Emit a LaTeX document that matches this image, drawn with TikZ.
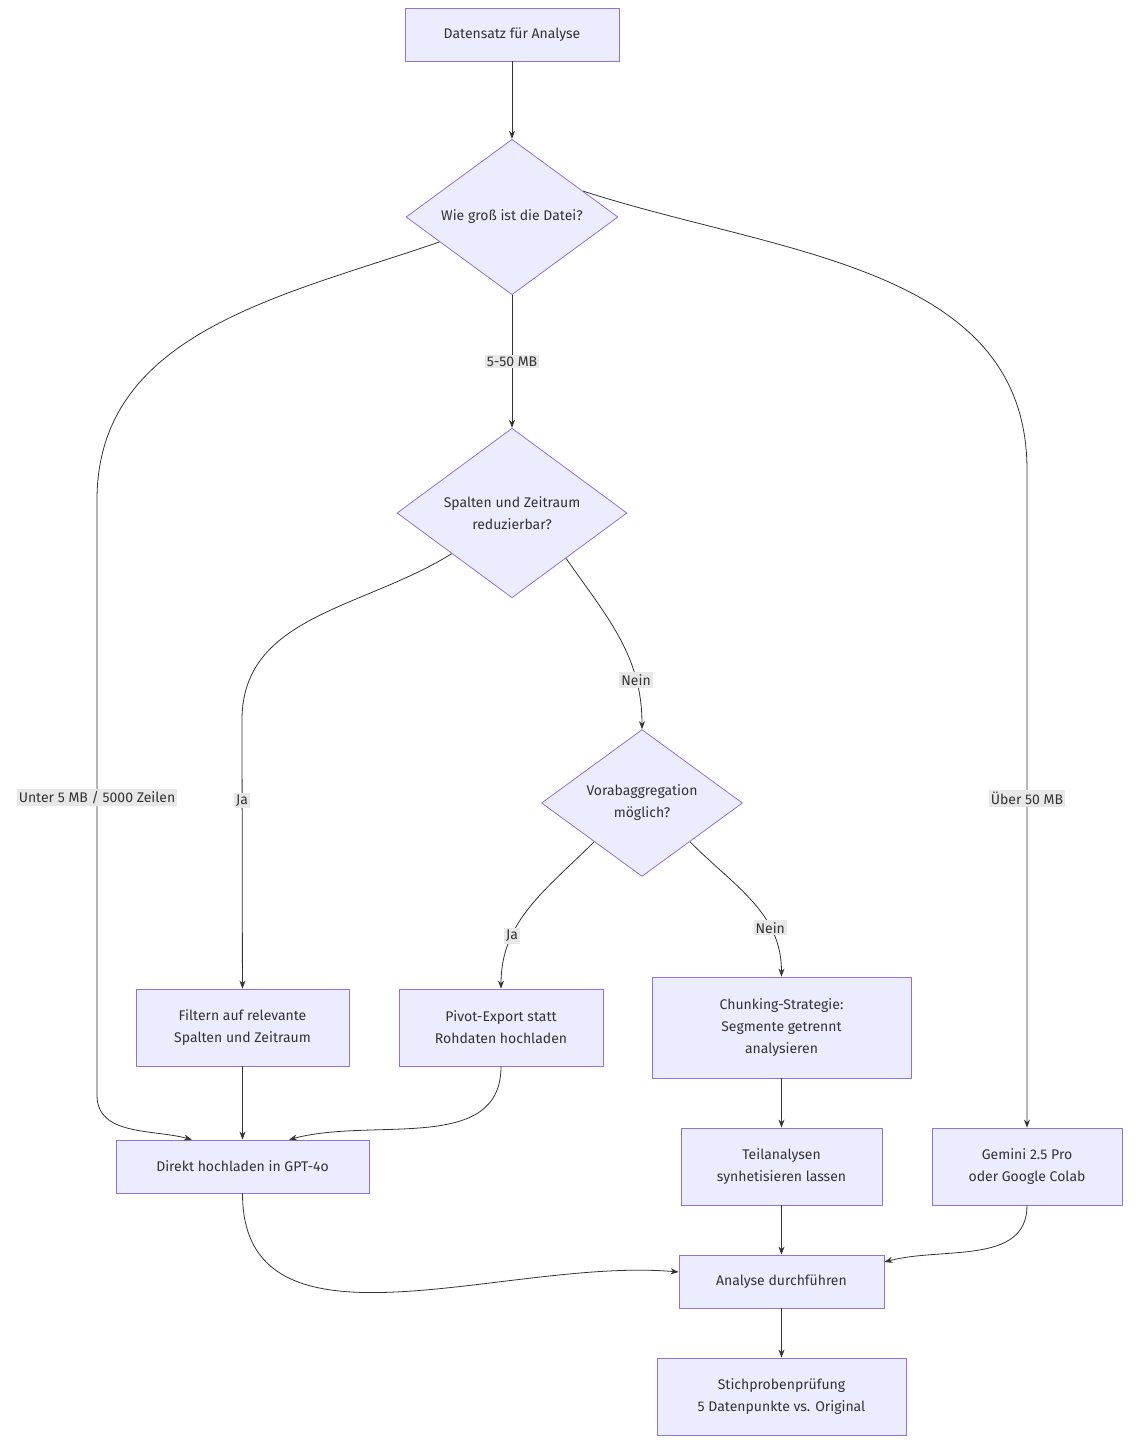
\documentclass[tikz,border=0pt]{standalone}
\usepackage{fontspec}
\setmainfont{Fira Sans}
\usetikzlibrary{shapes.geometric,arrows.meta}
\definecolor{nfill}{HTML}{ECECFF}
\definecolor{nline}{HTML}{9370DB}
\definecolor{ink}{HTML}{333333}
\definecolor{lbg}{HTML}{E8E8E8}
\begin{document}
\begin{tikzpicture}[x=1pt,y=-1pt,
  every node/.style={font=\fontsize{14}{22}\selectfont,text=ink,align=center},
  box/.style={draw=nline,fill=nfill,line width=0.8pt,inner sep=0pt},
  dia/.style={draw=nline,fill=nfill,line width=0.8pt,diamond,inner sep=0pt,aspect=1},
  lab/.style={fill=lbg,inner sep=2pt},
  edge/.style={draw=ink,line width=0.8pt,-{Stealth[length=8pt,width=6pt]}}]
\useasboundingbox (0,0) rectangle (1139,1455);
\node[box,minimum width=214,minimum height=53] (A) at (512,34.5) {Datensatz für Analyse};
\node[dia,minimum width=212] (B) at (512,217) {Wie groß ist die Datei?};
\node[dia,minimum width=230] (C) at (512,513) {Spalten und Zeitraum\\reduzierbar?};
\node[dia,minimum width=201] (D) at (642,803) {Vorabaggregation\\möglich?};
\node[box,minimum width=213,minimum height=77] (E) at (242.5,1027.5) {Filtern auf relevante\\Spalten und Zeitraum};
\node[box,minimum width=204,minimum height=77] (F) at (501,1027.5) {Pivot-Export statt\\Rohdaten hochladen};
\node[box,minimum width=259,minimum height=101] (G) at (781.5,1027.5) {Chunking-Strategie:\\Segmente getrennt\\analysieren};
\node[box,minimum width=253,minimum height=53] (H) at (242.5,1166.5) {Direkt hochladen in GPT-4o};
\node[box,minimum width=201,minimum height=77] (I) at (781.5,1166.5) {Teilanalysen\\synhetisieren lassen};
\node[box,minimum width=190,minimum height=77] (J) at (1027,1166.5) {Gemini 2.5 Pro\\oder Google Colab};
\node[box,minimum width=205,minimum height=53] (K) at (781.5,1281.5) {Analyse durchführen};
\node[box,minimum width=249,minimum height=77] (L) at (781.5,1396.5) {Stichprobenprüfung\\5 Datenpunkte vs. Original};
\coordinate (b1) at (97,500);
\coordinate (b2) at (97,1095);
\coordinate (c1) at (1027,470);
\coordinate (e1) at (242,720);
\draw[edge] (A) -- (B);
\draw[edge] (B) -- node[lab]{5-50 MB} (C);
\draw[edge] (B.199) to[out=199,in=90] (b1) -- node[lab]{Unter 5 MB / 5000 Zeilen} (b2) to[out=-90,in=165] (H.152);
\draw[edge] (B.20) to[out=-18,in=90] (c1) -- node[lab,pos=0.5]{Über 50 MB} (J);
\draw[edge] (C.214) to[out=212,in=90] (e1) -- node[lab,pos=0.3]{Ja} (E);
\draw[edge] (C.-40) to[out=-55,in=90] node[lab,pos=0.75]{Nein} (D);
\draw[edge] (D.219) to[out=-135,in=90] node[lab,pos=0.7]{Ja} (F);
\draw[edge] (D.-39) to[out=-45,in=90] node[lab,pos=0.7]{Nein} (G);
\draw[edge] (E) -- (H);
\draw[edge] (F) to[out=-90,in=15] (H.30);
\draw[edge] (G) -- (I);
\draw[edge] (I) -- (K);
\draw[edge] (K) -- (L);
\draw[edge] (H) to[out=-90,in=175] (K.west|-0,1272);
\draw[edge] (J) to[out=-90,in=15] (K.east|-0,1262);
\end{tikzpicture}
\end{document}
